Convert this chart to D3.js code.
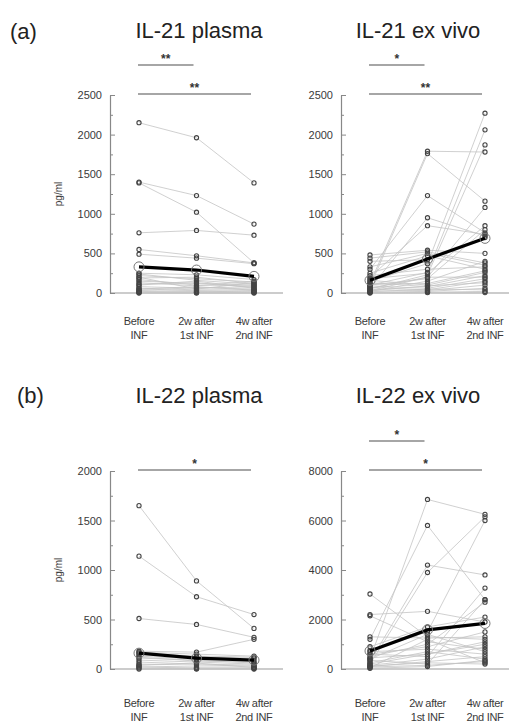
<!DOCTYPE html>
<html>
<head>
<meta charset="utf-8">
<script src="https://cdn.jsdelivr.net/npm/d3@7"></script>
<style>
  body { margin: 0; background: #fff; }
  text { font-family: "Liberation Sans", Arial, sans-serif; }
</style>
</head>
<body>
<script>
// time points (two-line labels)
const catLine1 = ["Before", "2w after", "4w after"]
const catLine2 = ["INF", "1st INF", "2nd INF"]

// each row = one subject: [before, 2w after 1st INF, 4w after 2nd INF] (pg/ml)
const il21Plasma = [
  [2150, 1960, 1390], [1400, 1230, 870], [1390, 1020, 380], [760, 790, 730],
  [550, 470, 380], [490, 440, 370], [250, 230, 170], [220, 180, 140],
  [190, 200, 120], [150, 120, 100], [130, 90, 150], [100, 150, 60],
  [80, 60, 80], [60, 40, 40], [40, 30, 20], [20, 10, 30], [10, 20, 5],
  [5, 5, 10], [0, 0, 0], [30, 70, 50], [170, 100, 90], [240, 160, 110],
  [110, 130, 70], [50, 80, 35], [200, 50, 130]
]
const il21PlasmaMean = [330, 290, 210]

const il21ExVivo = [
  [120, 1790, 1780], [80, 1760, 1160], [300, 1230, 760], [60, 950, 720],
  [200, 850, 740], [480, 540, 500], [440, 520, 380], [330, 500, 350],
  [250, 470, 300], [150, 370, 2270], [100, 260, 2060], [50, 230, 1870],
  [30, 200, 1080], [180, 250, 850], [100, 180, 800], [20, 150, 400],
  [160, 100, 260], [130, 80, 220], [90, 60, 180], [70, 40, 150],
  [40, 30, 100], [10, 20, 60], [5, 10, 20], [0, 5, 5], [220, 300, 330],
  [110, 120, 280], [60, 200, 200], [30, 90, 130], [15, 50, 40], [400, 420, 700]
]
const il21ExVivoMean = [160, 430, 690]

const il22Plasma = [
  [1650, 890, 410], [1140, 730, 550], [510, 450, 320], [180, 170, 300],
  [170, 150, 130], [150, 120, 110], [130, 100, 90], [110, 90, 60],
  [90, 70, 50], [70, 50, 40], [50, 40, 30], [30, 20, 20], [20, 10, 10],
  [10, 5, 5], [0, 0, 0], [160, 130, 120], [120, 80, 70], [40, 60, 15]
]
const il22PlasmaMean = [160, 110, 90]

const il22ExVivo = [
  [400, 6850, 6250], [1200, 5800, 2800], [300, 4200, 3800], [200, 3900, 6150],
  [2200, 2330, 1900], [3030, 1300, 1200], [2150, 1100, 800], [1300, 1250, 1300],
  [900, 1700, 2100], [750, 1500, 6000], [600, 500, 3270], [500, 1000, 2700],
  [700, 800, 600], [450, 600, 1000], [350, 200, 2800], [250, 700, 400],
  [150, 400, 900], [100, 300, 500], [80, 150, 300], [50, 1200, 250],
  [600, 900, 1500], [400, 1400, 700], [200, 600, 1100], [120, 250, 200],
  [30, 100, 350]
]
const il22ExVivoMean = [730, 1580, 1840]

// significance brackets: [from, to, label]
const sigIl21Plasma = [[0, 1, "**"], [0, 2, "**"]]
const sigIl21ExVivo = [[0, 1, "*"], [0, 2, "**"]]
const sigIl22Plasma = [[0, 2, "*"]]
const sigIl22ExVivo = [[0, 1, "*"], [0, 2, "*"]]

// y ticks: [max, major step, minor step]
const ticksIl21 = [2500, 500, 250]
const ticksIl22Plasma = [2000, 500, 250]
const ticksIl22ExVivo = [8000, 2000, 1000]

const svg = d3.select("body").append("svg")
  .attr("width", 509).attr("height", 722)

const panels = [
  {title: "IL-21 plasma", data: il21Plasma, mean: il21PlasmaMean, sig: sigIl21Plasma, ticks: ticksIl21,
   ax: 110, y0: 293, y1: 95, tx: 199, ty: 38, ylab: true, lab: [325, 339]},
  {title: "IL-21 ex vivo", data: il21ExVivo, mean: il21ExVivoMean, sig: sigIl21ExVivo, ticks: ticksIl21,
   ax: 341, y0: 293, y1: 95, tx: 418, ty: 38, ylab: false, lab: [325, 339]},
  {title: "IL-22 plasma", data: il22Plasma, mean: il22PlasmaMean, sig: sigIl22Plasma, ticks: ticksIl22Plasma,
   ax: 110, y0: 669, y1: 471, tx: 199, ty: 403, ylab: true, lab: [707, 721]},
  {title: "IL-22 ex vivo", data: il22ExVivo, mean: il22ExVivoMean, sig: sigIl22ExVivo, ticks: ticksIl22ExVivo,
   ax: 341, y0: 669, y1: 471, tx: 418, ty: 403, ylab: false, lab: [707, 721]}
]

panels.forEach(drawPanel)

// panel letters
svg.append("text").attr("x", 10).attr("y", 39).attr("font-size", 22).attr("fill", "#222").text("(a)")
svg.append("text").attr("x", 17).attr("y", 403).attr("font-size", 22).attr("fill", "#222").text("(b)")

function drawPanel(p){
  const [max, major, minor] = p.ticks
  const x = d3.scalePoint().domain([0, 1, 2]).range([p.ax + 29, p.ax + 144])
  const y = d3.scaleLinear().domain([0, max]).range([p.y0, p.y1])
  const g = svg.append("g")

  // title
  g.append("text").attr("x", p.tx).attr("y", p.ty)
    .attr("text-anchor", "middle").attr("font-size", 22).attr("fill", "#222")
    .text(p.title)

  // x axis baseline
  g.append("line")
    .attr("x1", p.ax).attr("x2", p.ax + 173)
    .attr("y1", y(0)).attr("y2", y(0))
    .attr("stroke", "#999").attr("stroke-width", 1.2)

  // y axis, ticks pointing inward
  const yAxis = d3.axisLeft(y)
    .tickValues(d3.range(0, max + 1, minor))
    .tickFormat(d => d % major === 0 ? d : "")
    .tickSize(-3).tickSizeOuter(0).tickPadding(8)
  const ya = g.append("g").attr("transform", `translate(${p.ax},0)`)
    .attr("color", "#888").call(yAxis)
  ya.select(".domain").attr("stroke-width", 1.2)
  ya.selectAll(".tick text").attr("font-size", 11).attr("fill", "#3a3a3a")
    .attr("font-family", "'Liberation Sans', Arial, sans-serif")
  ya.selectAll(".tick").filter(d => d % major === 0).select("line").attr("x2", 5)

  if (p.ylab) {
    g.append("text")
      .attr("transform", `translate(62,${(p.y0 + p.y1) / 2}) rotate(-90)`)
      .attr("text-anchor", "middle").attr("font-size", 10).attr("fill", "#3a3a3a")
      .text("pg/ml")
  }

  // category labels
  const lab = g.selectAll(".cat").data([0, 1, 2]).join("g").attr("class", "cat")
  lab.append("text").attr("x", d => x(d)).attr("y", p.lab[0])
    .attr("text-anchor", "middle").attr("font-size", 11).attr("fill", "#3a3a3a")
    .attr("letter-spacing", -0.3)
    .text(d => catLine1[d])
  lab.append("text").attr("x", d => x(d)).attr("y", p.lab[1])
    .attr("text-anchor", "middle").attr("font-size", 11).attr("fill", "#3a3a3a")
    .attr("letter-spacing", -0.3)
    .text(d => catLine2[d])

  // significance bars
  const sg = g.selectAll(".sig").data(p.sig).join("g").attr("class", "sig")
  const barY = (d, i) => y(max) - 1 - (p.sig.length - 1 - i) * 29
  sg.append("line")
    .attr("x1", d => x(d[0]) - 1).attr("x2", d => x(d[1]) - 3)
    .attr("y1", barY).attr("y2", barY)
    .attr("stroke", "#888").attr("stroke-width", 1.6)
  sg.append("text")
    .attr("x", d => (x(d[0]) + x(d[1])) / 2 - 2)
    .attr("y", (d, i) => barY(d, i) - 2)
    .attr("text-anchor", "middle").attr("font-size", 12).attr("font-weight", "bold").attr("fill", "#333")
    .text(d => d[2])

  // subject lines
  const line = d3.line().x((d, i) => x(i)).y(d => y(d))
  g.append("g").selectAll("path").data(p.data).join("path")
    .attr("d", line).attr("fill", "none")
    .attr("stroke", "#c4c4c4").attr("stroke-width", 0.8)

  // subject points
  const pts = p.data.flatMap(r => r.map((v, i) => ({i, v})))
  g.append("g").selectAll("circle").data(pts).join("circle")
    .attr("cx", d => x(d.i)).attr("cy", d => y(d.v)).attr("r", 2.1)
    .attr("fill", "none").attr("stroke", "#444").attr("stroke-width", 1.1)

  // mean line
  g.append("path").datum(p.mean).attr("d", line)
    .attr("fill", "none").attr("stroke", "#000").attr("stroke-width", 3.2)
  g.append("g").selectAll("circle").data(p.mean).join("circle")
    .attr("cx", (d, i) => x(i)).attr("cy", d => y(d)).attr("r", 5)
    .attr("fill", "none").attr("stroke", "#777").attr("stroke-width", 1)
}
</script>
</body>
</html>
